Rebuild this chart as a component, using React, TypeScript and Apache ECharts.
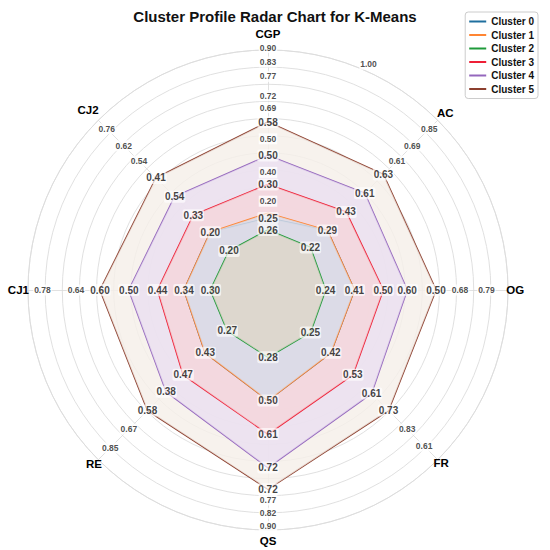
import React, { useEffect, useRef } from "react";
import * as echarts from "echarts";

// Axes listed clockwise from the top
const axes = ["CGP", "AC", "OG", "FR", "QS", "RE", "CJ1", "CJ2"];
// Level at which each axis name sits (just outside the outer ring)
const axisNameLevel = [1.065, 1.045, 1.03, 1.02, 1.045, 1.025, 1.04, 1.06];
const clusterNames = ["Cluster 0", "Cluster 1", "Cluster 2", "Cluster 3", "Cluster 4", "Cluster 5"];
const clusterColors = ["#1f6f9e", "#ff8533", "#1f9a3a", "#ee1f36", "#9467bd", "#8c3f2e"];
const clusterFills = ["#d8d9e6", "#dcdce6", "#ddd6c8", "#f4d6da", "#eadff0", "#f5efe9"];

// Plotted profile level of each cluster on each axis (fraction of the outer ring)
const cluster0Level = [0.30, 0.35, 0.36, 0.37, 0.46, 0.37, 0.35, 0.34];
const cluster1Level = [0.32, 0.35, 0.36, 0.37, 0.46, 0.37, 0.35, 0.34];
const cluster2Level = [0.25, 0.25, 0.24, 0.25, 0.28, 0.24, 0.24, 0.23];
const cluster3Level = [0.44, 0.46, 0.48, 0.50, 0.60, 0.50, 0.46, 0.44];
const cluster4Level = [0.56, 0.57, 0.58, 0.61, 0.74, 0.60, 0.58, 0.55];
const cluster5Level = [0.70, 0.68, 0.70, 0.71, 0.83, 0.71, 0.70, 0.66];

// Values printed at each vertex (null = not shown)
const cluster0Value = [0.25, 0.29, null, null, null, null, null, 0.20];
const cluster1Value = [null, null, 0.41, 0.42, 0.50, 0.43, 0.34, null];
const cluster2Value = [0.26, 0.22, 0.24, 0.25, 0.28, 0.27, 0.30, 0.20];
const cluster3Value = [0.30, 0.43, 0.50, 0.53, 0.61, 0.47, 0.44, 0.33];
const cluster4Value = [0.50, 0.61, 0.60, 0.61, 0.72, 0.38, 0.50, 0.54];
const cluster5Value = [0.58, 0.63, 0.50, 0.73, 0.72, 0.58, 0.60, 0.41];

// Ring labels along each axis: axis, ring level, text
const ringLabelAxis = ["CGP", "CGP", "CGP", "CGP", "CGP", "CGP", "CGP", "CGP",
  "AC", "AC", "AC", "OG", "OG", "FR", "FR", "QS", "QS", "QS", "RE", "RE", "CJ1", "CJ1", "CJ2", "CJ2", "CJ2"];
const ringLabelLevel = [0.37, 0.49, 0.63, 0.76, 0.81, 0.89, 0.95, 1.01,
  0.76, 0.85, 0.95, 0.80, 0.91, 0.82, 0.92, 0.875, 0.93, 0.985, 0.82, 0.93, 0.80, 0.94, 0.76, 0.85, 0.95];
const ringLabelText = ["0.20", "0.40", "0.50", "0.69", "0.72", "0.77", "0.83", "0.90",
  "0.61", "0.69", "0.85", "0.68", "0.79", "0.83", "0.61", "0.77", "0.82", "0.90", "0.67", "0.85", "0.64", "0.78", "0.54", "0.62", "0.76"];

// Radial tick label of the outer ring
const outerTickAngle = 24;
const outerTickLevel = 1.03;
const outerTickText = "1.00";

const levels = [cluster0Level, cluster1Level, cluster2Level, cluster3Level, cluster4Level, cluster5Level];
const values = [cluster0Value, cluster1Value, cluster2Value, cluster3Value, cluster4Value, cluster5Value];
// drawing order: outer polygons first, inner ones on top
const drawOrder = [5, 4, 3, 0, 1, 2];

const FONT = "'Liberation Sans', Arial, sans-serif";
const CENTER = [268, 290];
const RADIUS = 240;

// radar indicators run counter-clockwise; map to clockwise axis order
const radarOrder = axes.map((_, j) => (axes.length - j) % axes.length);
const angleOf = (k: number) => (k * 360) / axes.length;

const hiddenAxis = {
  axisLine: { show: false }, axisTick: { show: false }, axisLabel: { show: false }, splitLine: { show: false },
};

export default function App() {
  const ref = useRef<HTMLDivElement>(null);
  useEffect(() => {
    if (!ref.current) return;
    const chart = echarts.init(ref.current, undefined, { renderer: "svg" });

    const radarSeries = drawOrder.map((c) => ({
      type: "radar",
      name: clusterNames[c],
      symbol: "none",
      z: 2,
      lineStyle: { color: clusterColors[c], width: 1.6 },
      itemStyle: { color: clusterColors[c] },
      areaStyle: { color: clusterFills[c], opacity: 0.82 },
      data: [{ name: clusterNames[c], value: radarOrder.map((k) => levels[c][k]) }],
    }));

    const labelSeries = values.map((vals, c) => ({
      type: "scatter",
      coordinateSystem: "polar",
      symbolSize: 1,
      clip: false,
      z: 10,
      silent: true,
      itemStyle: { color: "rgba(0,0,0,0)" },
      label: {
        show: true,
        position: "inside",
        formatter: "{b}",
        color: "#111",
        fontFamily: FONT,
        fontWeight: "bold",
        fontSize: 10,
        backgroundColor: "rgba(255,255,255,0.8)",
        padding: [1, 1],
        borderRadius: 2,
      },
      data: vals
        .map((v, k) => (v == null ? null : { name: v.toFixed(2), value: [levels[c][k], angleOf(k)] }))
        .filter((d) => d !== null),
    }));

    const ringSeries = {
      type: "scatter",
      coordinateSystem: "polar",
      symbolSize: 1,
      clip: false,
      z: 9,
      silent: true,
      itemStyle: { color: "rgba(0,0,0,0)" },
      label: {
        show: true,
        position: "inside",
        formatter: "{b}",
        color: "#222",
        fontFamily: FONT,
        fontWeight: "bold",
        fontSize: 8.5,
        backgroundColor: "#ffffff",
        padding: [1, 1],
      },
      data: ringLabelText
        .map((t, i) => ({ name: t, value: [ringLabelLevel[i], angleOf(axes.indexOf(ringLabelAxis[i]))] }))
        .concat([{ name: outerTickText, value: [outerTickLevel, outerTickAngle] }]),
    };

    const nameSeries = {
      type: "scatter",
      coordinateSystem: "polar",
      symbolSize: 1,
      clip: false,
      z: 11,
      silent: true,
      itemStyle: { color: "rgba(0,0,0,0)" },
      label: {
        show: true,
        position: "inside",
        formatter: "{b}",
        color: "#000",
        opacity: 1,
        textBorderWidth: 0,
        fontFamily: FONT,
        fontWeight: "bold",
        fontSize: 11.5,
      },
      data: axes.map((a, k) => ({ name: a, value: [axisNameLevel[k], angleOf(k)] })),
    };

    chart.setOption({
      animation: false,
      backgroundColor: "#ffffff",
      title: {
        text: "Cluster Profile Radar Chart for K-Means",
        left: "center",
        top: 4,
        textStyle: { fontFamily: FONT, fontWeight: "bold", fontSize: 15, color: "#111" },
      },
      legend: {
        orient: "vertical",
        right: 12,
        top: 12,
        data: clusterNames.map((n) => ({ name: n, icon: "rect" })),
        itemWidth: 17,
        itemHeight: 2,
        itemGap: 2.5,
        padding: [4, 4],
        borderColor: "#cccccc",
        borderWidth: 1,
        borderRadius: 3,
        backgroundColor: "#ffffff",
        textStyle: { fontFamily: FONT, fontWeight: "bold", fontSize: 10, color: "#111", lineHeight: 11 },
      },
      radar: {
        center: CENTER,
        radius: RADIUS,
        shape: "circle",
        splitNumber: 14,
        startAngle: 90,
        indicator: radarOrder.map((k) => ({ name: axes[k], min: 0, max: 1 })),
        axisName: { show: false },
        axisLine: { lineStyle: { color: "#d9d9d9", width: 0.8 } },
        splitLine: { lineStyle: { color: "#dcdcdc", width: 0.9 } },
        splitArea: { show: false },
        axisLabel: { show: false },
        axisTick: { show: false },
      },
      polar: { center: CENTER, radius: RADIUS },
      angleAxis: { type: "value", min: 0, max: 360, startAngle: 90, clockwise: true, ...hiddenAxis },
      radiusAxis: { type: "value", min: 0, max: 1, ...hiddenAxis },
      series: [...radarSeries, ...labelSeries, ringSeries, nameSeries],
    });
    return () => chart.dispose();
  }, []);
  return <div ref={ref} style={{ position: "fixed", left: 0, top: 0, width: 550, height: 550 }} />;
}
